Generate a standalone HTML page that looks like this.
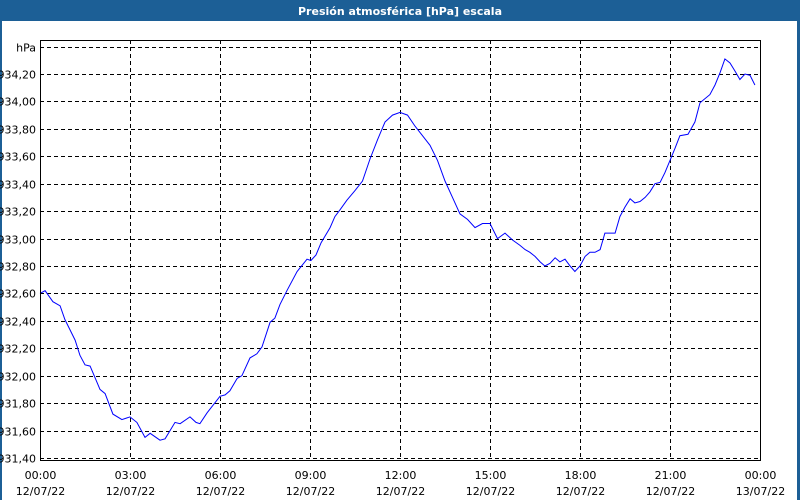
<!DOCTYPE html>
<html><head><meta charset="utf-8"><style>
body{margin:0;background:#fff;}
svg{display:block;font-family:"DejaVu Sans","Liberation Sans",sans-serif;}
</style></head><body>
<svg width="800" height="500" xmlns="http://www.w3.org/2000/svg">
<rect x="0" y="0" width="800" height="500" fill="#fff"/>
<rect x="0" y="0" width="800" height="21" fill="#1c5f96"/>
<rect x="0" y="0" width="2" height="500" fill="#1c5f96"/>
<rect x="797" y="0" width="3" height="500" fill="#1c5f96"/>
<text x="400" y="15" text-anchor="middle" fill="#fff" font-size="11" font-weight="bold">Presión atmosférica [hPa] escala</text>
<g id="grid"></g>
<g id="axes"></g>
<path id="line" fill="none" stroke="#0000ff" stroke-width="1"/>
<rect x="40.5" y="40.5" width="720" height="420" fill="none" stroke="#000"/>
</svg>
<script>
const hours=[0,0.17,0.43,0.67,0.83,1.17,1.33,1.5,1.67,2,2.17,2.43,2.73,3,3.23,3.5,3.67,4,4.17,4.5,4.67,5,5.2,5.33,5.57,6,6.17,6.33,6.57,6.73,7,7.23,7.4,7.67,7.83,8,8.23,8.57,8.9,9.03,9.2,9.37,9.67,9.83,10,10.23,10.5,10.75,11,11.25,11.5,11.75,12,12.25,12.5,12.75,13,13.25,13.5,13.75,14,14.25,14.5,14.75,15,15.25,15.5,15.75,16,16.17,16.33,16.5,16.67,16.83,17,17.17,17.33,17.5,17.67,17.83,18,18.17,18.33,18.5,18.67,18.83,19,19.17,19.33,19.5,19.67,19.83,20,20.17,20.33,20.5,20.67,20.83,21,21.17,21.33,21.6,21.83,22,22.33,22.5,22.67,22.83,23,23.17,23.33,23.5,23.67,23.83];
const values=[932.60,932.62,932.54,932.51,932.41,932.26,932.15,932.08,932.07,931.90,931.87,931.72,931.68,931.70,931.66,931.55,931.58,931.53,931.54,931.66,931.65,931.70,931.66,931.65,931.73,931.85,931.86,931.89,931.98,932.00,932.13,932.16,932.21,932.39,932.42,932.52,932.62,932.76,932.85,932.84,932.88,932.97,933.08,933.16,933.21,933.28,933.35,933.42,933.58,933.72,933.85,933.90,933.92,933.90,933.82,933.75,933.68,933.57,933.42,933.30,933.18,933.14,933.08,933.11,933.11,933.00,933.04,932.99,932.95,932.92,932.90,932.87,932.83,932.80,932.82,932.86,932.83,932.85,932.80,932.76,932.80,932.87,932.90,932.90,932.92,933.04,933.04,933.04,933.16,933.23,933.29,933.26,933.27,933.30,933.34,933.40,933.41,933.48,933.57,933.66,933.75,933.76,933.85,933.99,934.05,934.12,934.21,934.31,934.28,934.22,934.16,934.20,934.19,934.12,934.05];
const yTicks=[931.40,931.60,931.80,932.00,932.20,932.40,932.60,932.80,933.00,933.20,933.40,933.60,933.80,934.00,934.20];
const xTickHours=[0,3,6,9,12,15,18,21,24];
const xTickTimes=["00:00","03:00","06:00","09:00","12:00","15:00","18:00","21:00","00:00"];
const xTickDates=["12/07/22","12/07/22","12/07/22","12/07/22","12/07/22","12/07/22","12/07/22","12/07/22","13/07/22"];
const NS="http://www.w3.org/2000/svg";
const xS=h=>40+h*30;
const yS=v=>74+(934.2-v)/0.2*27.43;
const grid=document.getElementById('grid'),axes=document.getElementById('axes');
function mk(tag,attrs,parent){const e=document.createElementNS(NS,tag);for(const k in attrs)e.setAttribute(k,attrs[k]);parent.appendChild(e);return e;}
const allY=yTicks.concat([934.40]);
allY.forEach((v,i)=>{
  const y=Math.round(yS(v))+0.5;
  const l=mk('line',{x1:40,x2:760,y1:y,y2:y,stroke:'#000','stroke-dasharray':'4,3'},grid);
  
  
  const t=mk('text',{x:36,y:y+4,'text-anchor':'end','font-size':'11',fill:'#000'},axes);
  
  
  t.textContent=(i<yTicks.length)?v.toFixed(2).replace('.',','):'hPa';
});
xTickHours.forEach((h,i)=>{
  const x=Math.round(xS(h))+0.5;
  if(h>0&&h<24){
    const l=mk('line',{x1:x,x2:x,y1:40,y2:460,stroke:'#000','stroke-dasharray':'4,3'},grid);
    
    
  }
  const t1=mk('text',{x:x,y:479,'text-anchor':'middle','font-size':'11',fill:'#000'},axes);
  
  
  t1.textContent=xTickTimes[i];
  const t2=mk('text',{x:x,y:495,'text-anchor':'middle','font-size':'11',fill:'#000'},axes);
  
  
  t2.textContent=xTickDates[i];
});
document.getElementById('line').setAttribute('d',hours.map((h,i)=>(i?'L':'M')+xS(h).toFixed(1)+','+yS(values[i]).toFixed(1)).join(''));
</script>
</body></html>
